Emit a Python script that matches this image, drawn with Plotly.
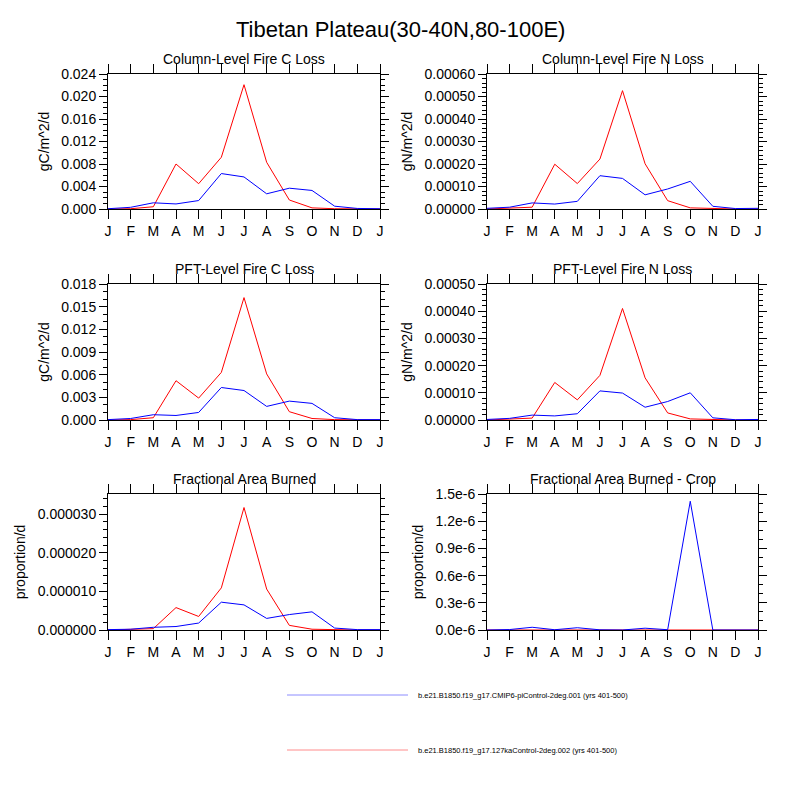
import plotly.graph_objects as go

months = ["J", "F", "M", "A", "M", "J", "J", "A", "S", "O", "N", "D", "J"]
xpos = list(range(13))

title = "Tibetan Plateau(30-40N,80-100E)"
case_blue = "b.e21.B1850.f19_g17.CMIP6-piControl-2deg.001 (yrs 401-500)"
case_red = "b.e21.B1850.f19_g17.127kaControl-2deg.002 (yrs 401-500)"

panel_titles = ["Column-Level Fire C Loss", "Column-Level Fire N Loss",
                "PFT-Level Fire C Loss", "PFT-Level Fire N Loss",
                "Fractional Area Burned", "Fractional Area Burned - Crop"]
units = ["gC/m^2/d", "gN/m^2/d", "gC/m^2/d", "gN/m^2/d", "proportion/d", "proportion/d"]

colc_blue = [0.00005, 0.0003, 0.0011, 0.0009, 0.0015, 0.0063, 0.0057, 0.0027, 0.0037, 0.0033, 0.0005, 0.0001, 0.00005]
colc_red = [0.0, 0.00005, 0.0004, 0.0080, 0.0045, 0.0092, 0.0221, 0.0083, 0.0016, 0.0002, 0.00005, 0.0, 0.0]

coln_blue = [0.000003, 0.000008, 0.000027, 0.000022, 0.000034, 0.000148, 0.000136, 0.000063, 0.000089, 0.000123, 0.000012, 0.000002, 0.000003]
coln_red = [0.0, 0.000003, 0.000008, 0.000199, 0.000113, 0.000222, 0.000526, 0.000201, 0.000037, 0.000005, 0.000001, 0.0, 0.0]

pftc_blue = [0.00005, 0.0002, 0.0007, 0.0006, 0.0010, 0.0043, 0.0039, 0.0018, 0.0025, 0.0022, 0.0003, 0.00005, 0.00005]
pftc_red = [0.0, 0.00005, 0.0003, 0.0052, 0.0029, 0.0063, 0.0162, 0.0061, 0.0011, 0.0002, 0.00005, 0.0, 0.0]

pftn_blue = [0.000002, 0.000006, 0.000018, 0.000015, 0.000023, 0.000107, 0.000099, 0.000047, 0.000068, 0.000100, 0.000008, 0.000001, 0.000002]
pftn_red = [0.0, 0.000003, 0.000007, 0.000138, 0.000074, 0.000164, 0.000410, 0.000155, 0.000026, 0.000004, 0.000001, 0.0, 0.0]

farea_blue = [0.0000001, 0.0000002, 0.0000007, 0.0000009, 0.0000018, 0.0000072, 0.0000065, 0.0000030, 0.0000040, 0.0000047, 0.0000005, 0.0000001, 0.0000001]
farea_red = [0.0, 0.0000001, 0.00000035, 0.0000058, 0.0000035, 0.0000109, 0.0000317, 0.0000106, 0.0000012, 0.0000002, 0.00000005, 0.0, 0.0]

crop_blue = [0.0, 0.005e-6, 0.03e-6, 0.003e-6, 0.025e-6, 0.002e-6, 0.0, 0.02e-6, 0.003e-6, 1.42e-6, 0.0, 0.0, 0.0]
crop_red = [0.0] * 13

blue_series = [colc_blue, coln_blue, pftc_blue, pftn_blue, farea_blue, crop_blue]
red_series = [colc_red, coln_red, pftc_red, pftn_red, farea_red, crop_red]

y_ranges = [[0, 0.024], [0, 0.0006], [0, 0.018], [0, 0.0005], [0, 0.0000352], [0, 1.5e-6]]
y_dticks = [0.004, 0.0001, 0.003, 0.0001, 0.00001, 0.3e-6]
y_minor = [0.001, 0.00002, 0.001, 0.00002, 0.000002, 0.1e-6]
y_formats = [".3f", ".5f", ".3f", ".5f", ".6f", None]
crop_tickvals = [0, 0.3e-6, 0.6e-6, 0.9e-6, 1.2e-6, 1.5e-6]
crop_ticktext = ["0.0e-6", "0.3e-6", "0.6e-6", "0.9e-6", "1.2e-6", "1.5e-6"]

W = H = 800
xdoms = [[108 / W, 380 / W], [487 / W, 758 / W]]
ydoms = [[1 - 209 / H, 1 - 74 / H], [1 - 420 / H, 1 - 284 / H], [1 - 630 / H, 1 - 494 / H]]

FONT = "Liberation Sans, Arial, sans-serif"
fig = go.Figure()
annotations = []
layout = dict(width=W, height=H, autosize=False, margin=dict(l=0, r=0, t=0, b=0, pad=0),
              paper_bgcolor="white", plot_bgcolor="white", showlegend=False,
              font=dict(family=FONT, color="black"))

for i in range(6):
    row, col = divmod(i, 2)
    n = i + 1
    xa = "x" if n == 1 else f"x{n}"
    ya = "y" if n == 1 else f"y{n}"
    fig.add_trace(go.Scatter(x=xpos, y=red_series[i], mode="lines", line=dict(color="red", width=1),
                             xaxis=xa, yaxis=ya))
    fig.add_trace(go.Scatter(x=xpos, y=blue_series[i], mode="lines", line=dict(color="blue", width=1),
                             xaxis=xa, yaxis=ya))
    xkey = "xaxis" if n == 1 else f"xaxis{n}"
    ykey = "yaxis" if n == 1 else f"yaxis{n}"
    layout[xkey] = dict(domain=xdoms[col], anchor=ya, range=[0, 12], tickmode="array",
                        tickvals=xpos, ticktext=months, ticks="outside", ticklen=9,
                        tickcolor="black", showline=True, linecolor="black", linewidth=1,
                        mirror="ticks", showgrid=False, zeroline=False, layer="above traces",
                        automargin=False, tickfont=dict(size=14, family=FONT))
    yd = dict(domain=ydoms[row], anchor=xa, range=y_ranges[i], ticks="outside", ticklen=8,
              tickcolor="black", showline=True, linecolor="black", linewidth=1,
              mirror="ticks", showgrid=False, zeroline=False, layer="above traces",
              automargin=False, tickfont=dict(size=14, family=FONT),
              title=dict(text=units[i], font=dict(size=14, family=FONT), standoff=8),
              minor=dict(ticks="outside", ticklen=4, tickcolor="black", dtick=y_minor[i], showgrid=False))
    if y_formats[i] is None:
        yd.update(tickmode="array", tickvals=crop_tickvals, ticktext=crop_ticktext)
    else:
        yd.update(tickmode="linear", tick0=0, dtick=y_dticks[i], tickformat=y_formats[i])
    layout[ykey] = yd
    annotations.append(dict(text=panel_titles[i], xref="paper", yref="paper",
                            x=(xdoms[col][0] + xdoms[col][1]) / 2, y=ydoms[row][1] + 5 / H,
                            xanchor="center", yanchor="bottom", showarrow=False,
                            font=dict(size=14, family=FONT)))

annotations.append(dict(text=title, xref="paper", yref="paper", x=0.5, y=1 - 30 / H,
                        xanchor="center", yanchor="middle", showarrow=False,
                        font=dict(size=22, family=FONT)))

shapes = []
for yy, col, txt in [(695, "rgb(140,140,255)", case_blue), (750, "rgb(255,140,140)", case_red)]:
    shapes.append(dict(type="line", xref="paper", yref="paper", x0=287 / W, x1=408 / W,
                       y0=1 - yy / H, y1=1 - yy / H, line=dict(color=col, width=1)))
    annotations.append(dict(text=txt, xref="paper", yref="paper", x=416 / W, y=1 - yy / H,
                            xanchor="left", yanchor="middle", showarrow=False,
                            font=dict(size=7.5, family=FONT)))

layout["annotations"] = annotations
layout["shapes"] = shapes
fig.update_layout(**layout)
fig.write_html("out.html", config={"displayModeBar": False},
               post_script="document.body.style.margin='0';document.body.style.overflow='hidden';")
